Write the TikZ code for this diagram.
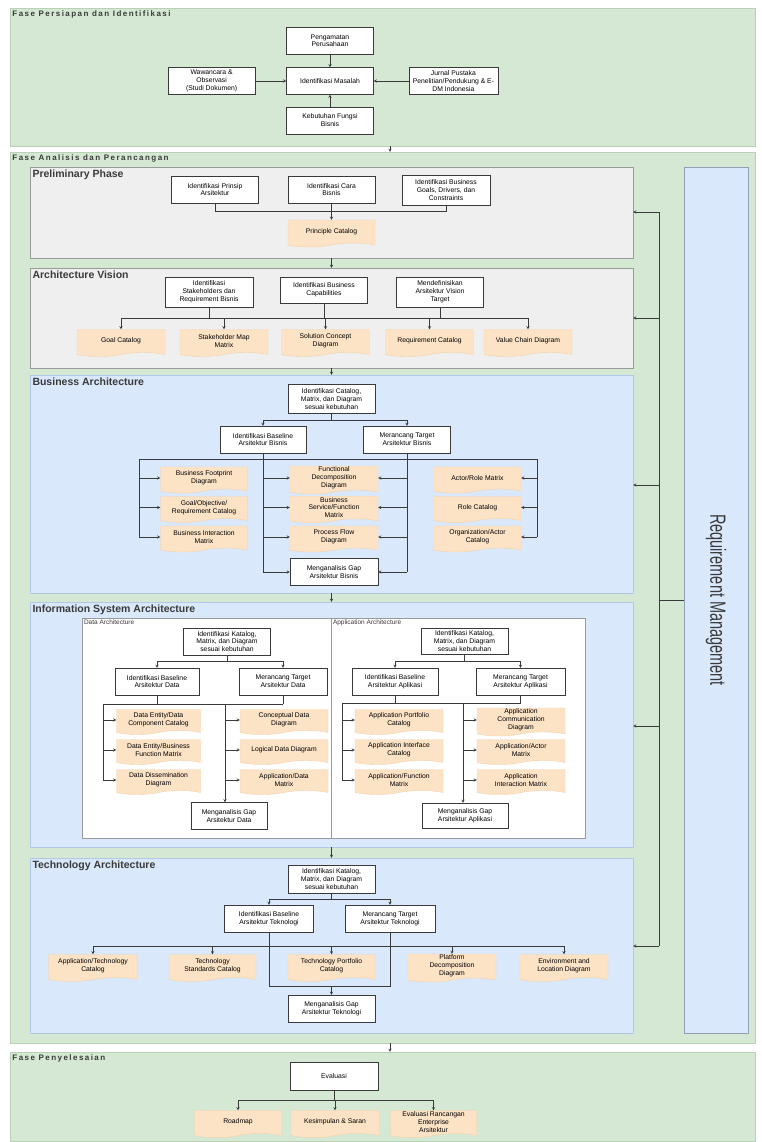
\documentclass[tikz,border=0pt]{standalone}
\usepackage{fontspec}
\setmainfont{Liberation Sans}
\usetikzlibrary{shapes.symbols, arrows, positioning, fit, backgrounds, calc}
\definecolor{fasegreen}{HTML}{D5E8D4}
\definecolor{faseline}{HTML}{B9D2B5}
\definecolor{phasegray}{HTML}{EFEFEF}
\definecolor{grayline}{HTML}{9A9A9A}
\definecolor{phaseblue}{HTML}{DAE8FC}
\definecolor{blueline}{HTML}{B3C8E6}
\definecolor{docorange}{HTML}{FDE3C6}
\definecolor{docline}{HTML}{F3D2AA}
\definecolor{linegray}{HTML}{3A3A3A}

\begin{document}
\begin{tikzpicture}[
    x=1pt, y=-1pt,
    box/.style={rectangle, draw=linegray, fill=white, minimum width=87pt, minimum height=27pt, inner sep=1pt, align=center, font=\fontsize{6.8}{7.8}\selectfont},
    doc/.style={tape, tape bend top=none, tape bend height=4pt, draw=docline, fill=docorange, minimum width=87pt, minimum height=27pt, inner sep=1pt, align=center, font=\fontsize{6.8}{7.8}\selectfont},
    fase/.style={rectangle, draw=faseline, fill=fasegreen, inner sep=0pt},
    graybox/.style={rectangle, draw=grayline, fill=phasegray, inner sep=0pt},
    bluebox/.style={rectangle, draw=blueline, fill=phaseblue, inner sep=0pt},
    subbox/.style={rectangle, draw=grayline, fill=white, inner sep=0pt},
    reqbox/.style={rectangle, draw=blueline!80!black, fill=phaseblue, inner sep=0pt},
    fasetitle/.style={anchor=north west, inner sep=2.5pt, text=linegray, font=\fontsize{8}{9}\selectfont\bfseries\addfontfeature{LetterSpace=18}},
    phasetitle/.style={anchor=north west, inner sep=2.5pt, text=linegray, font=\fontsize{10.5}{11}\selectfont\bfseries},
    subtitle/.style={anchor=north west, inner sep=2pt, text=linegray, font=\fontsize{6.5}{7}\selectfont},
    arrow/.style={draw=linegray, ->, >=stealth},
    conn/.style={draw=linegray}
]
\useasboundingbox (0,0) rectangle (761,1142);
\fill[white] (0,0) rectangle (761,1142);

% Fase Persiapan dan Identifikasi
\node[fase, fit={(10,8) (755,146)}] (persiapan) {};
\node[fasetitle] at (persiapan.north west) {Fase Persiapan dan Identifikasi};
\node[box] (masalah) at (330,81) {Identifikasi Masalah};
\node[box, above=13pt of masalah] (pengamatan) {Pengamatan\\Perusahaan};
\node[box, left=31pt of masalah] (wawancara) {Wawancara \&\\Observasi\\(Studi Dokumen)};
\node[box, right=35pt of masalah, minimum width=89pt] (jurnal) {Jurnal Pustaka\\Penelitian/Pendukung \& E-\\DM Indonesia};
\node[box, below=12pt of masalah] (kebutuhan) {Kebutuhan Fungsi\\Bisnis};
\draw[arrow] (pengamatan) -- (masalah);
\draw[arrow] (wawancara) -- (masalah);
\draw[arrow] (jurnal) -- (masalah);
\draw[arrow] (kebutuhan) -- (masalah);

% Fase Analisis dan Perancangan
\node[fase, fit={(10,152) (755,1043)}] (analisis) {};
\node[fasetitle] at (analisis.north west) {Fase Analisis dan Perancangan};
\draw[arrow] ([xshift=7.5pt]persiapan.south) -- ([xshift=7.5pt]analisis.north);

% Preliminary Phase
\node[graybox, fit={(30,167) (633,258)}] (prelim) {};
\node[phasetitle] at (prelim.north west) {Preliminary Phase};
\node[box] (prinsip) at (215,189.5) {Identifikasi Prinsip\\Arsitektur};
\node[box] (cara) at (331.5,189.5) {Identifikasi Cara\\Bisnis};
\node[box, minimum height=30pt, minimum width=88pt] (goals) at (446,190) {Identifikasi Business\\Goals, Drivers, dan\\Constraints};
\node[doc] (principle) at (331.5,231.5) {Principle Catalog};
\coordinate (prebus) at (0,211);
\draw[conn] (prinsip.south) -- (prinsip.south |- prebus) -- (goals.south |- prebus) -- (goals.south);
\draw[arrow] (cara.south) -- (principle.north);

% Architecture Vision
\node[graybox, fit={(30,268) (633,368)}] (vision) {};
\node[phasetitle] at (vision.north west) {Architecture Vision};
\draw[arrow] (prelim.south -| principle) -- (vision.north -| principle);
\node[box, minimum height=30pt, minimum width=88pt] (stakeholder) at (209,292) {Identifikasi\\Stakeholders dan\\Requirement Bisnis};
\node[box, minimum height=26pt] (capability) at (324,290) {Identifikasi Business\\Capabilities};
\node[box, minimum height=30pt] (visiontarget) at (440,292) {Mendefinisikan\\Arsitektur Vision\\Target};
\node[doc, minimum width=88pt] (goalcat) at (121,341) {Goal Catalog};
\node[doc, minimum width=88pt] (stakemap) at (224,341) {Stakeholder Map\\Matrix};
\node[doc, minimum width=88pt] (solution) at (325.5,341) {Solution Concept\\Diagram};
\node[doc, minimum width=88pt] (reqcat) at (429.5,341) {Requirement Catalog};
\node[doc, minimum width=88pt] (valuechain) at (528,341) {Value Chain Diagram};
\coordinate (visbus) at (0,318);
\draw[conn] (stakeholder.south) -- (stakeholder.south |- visbus);
\draw[conn] (capability.south) -- (capability.south |- visbus);
\draw[conn] (visiontarget.south) -- (visiontarget.south |- visbus);
\draw[conn] (goalcat.north |- visbus) -- (valuechain.north |- visbus);
\draw[arrow] (goalcat.north |- visbus) -- (goalcat.north);
\draw[arrow] (stakemap.north |- visbus) -- (stakemap.north);
\draw[arrow] (solution.north |- visbus) -- (solution.north);
\draw[arrow] (reqcat.north |- visbus) -- (reqcat.north);
\draw[arrow] (valuechain.north |- visbus) -- (valuechain.north);

% Business Architecture
\node[bluebox, fit={(30,375) (633,593)}] (business) {};
\node[phasetitle] at (business.north west) {Business Architecture};
\draw[arrow] (vision.south -| principle) -- (business.north -| principle);
\node[box, minimum height=29pt] (bizkatalog) at (331.5,399) {Identifikasi Catalog,\\Matrix, dan Diagram\\sesuai kebutuhan};
\node[box, minimum width=86pt] (bizbase) at (263,439.5) {Identifikasi Baseline\\Arsitektur Bisnis};
\node[box] (biztarget) at (407,439.5) {Merancang Target\\Arsitektur Bisnis};
\node[doc, minimum height=26pt] (footprint) at (204,478) {Business Footprint\\Diagram};
\node[doc, minimum height=26pt] (goalobj) at (204,507.5) {Goal/Objective/\\Requirement Catalog};
\node[doc, minimum height=26pt] (interaction) at (204,537) {Business Interaction\\Matrix};
\node[doc, minimum width=88pt, minimum height=26pt] (functional) at (334,478) {Functional\\Decomposition\\Diagram};
\node[doc, minimum width=88pt, minimum height=26pt] (service) at (334,507.5) {Business\\Service/Function\\Matrix};
\node[doc, minimum width=88pt, minimum height=26pt] (processflow) at (334,537) {Process Flow\\Diagram};
\node[doc, minimum height=26pt] (actorrole) at (477.5,478) {Actor/Role Matrix};
\node[doc, minimum height=26pt] (rolecat) at (477.5,507.5) {Role Catalog};
\node[doc, minimum height=26pt] (orgactor) at (477.5,537) {Organization/Actor\\Catalog};
\node[box, minimum width=88pt] (bizgap) at (334,572) {Menganalisis Gap\\Arsitektur Bisnis};
\coordinate (bizbus) at (0,420);
\coordinate (bizleft) at (139,459);
\coordinate (bizright) at (537,459);
\draw[conn] (bizkatalog.south) -- (bizkatalog.south |- bizbus);
\draw[conn] (bizbase.north |- bizbus) -- (biztarget.north |- bizbus);
\draw[arrow] (bizbase.north |- bizbus) -- (bizbase.north);
\draw[arrow] (biztarget.north |- bizbus) -- (biztarget.north);
\draw[conn] (bizleft) -- (bizright);
\draw[conn] (bizbase.south) -- (bizbase.south |- bizgap);
\draw[conn] (biztarget.south) -- (biztarget.south |- bizgap);
\draw[conn] (bizleft) -- (bizleft |- interaction);
\draw[conn] (bizright) -- (bizright |- orgactor);
\draw[arrow] (bizleft |- footprint) -- (footprint.west);
\draw[arrow] (bizleft |- goalobj) -- (goalobj.west);
\draw[arrow] (bizleft |- interaction) -- (interaction.west);
\draw[arrow] (bizright |- actorrole) -- (actorrole.east);
\draw[arrow] (bizright |- rolecat) -- (rolecat.east);
\draw[arrow] (bizright |- orgactor) -- (orgactor.east);
\draw[arrow] (bizbase.south |- functional) -- (functional.west);
\draw[arrow] (bizbase.south |- service) -- (service.west);
\draw[arrow] (bizbase.south |- processflow) -- (processflow.west);
\draw[arrow] (bizbase.south |- bizgap) -- (bizgap.west);
\draw[arrow] (biztarget.south |- functional) -- (functional.east);
\draw[arrow] (biztarget.south |- service) -- (service.east);
\draw[arrow] (biztarget.south |- processflow) -- (processflow.east);
\draw[arrow] (biztarget.south |- bizgap) -- (bizgap.east);

% Information System Architecture
\node[bluebox, fit={(30,602) (633,847)}] (infosys) {};
\node[phasetitle] at (infosys.north west) {Information System Architecture};
\draw[arrow] (business.south -| principle) -- (infosys.north -| principle);
\node[subbox, fit={(82,618) (331,838)}] (dataarch) {};
\node[subtitle] at (dataarch.north west) {Data Architecture};
\node[subbox, fit={(331,618) (585,838)}] (apparch) {};
\node[subtitle] at (apparch.north west) {Application Architecture};

% Data Architecture
\node[box] (datakatalog) at (227,641.5) {Identifikasi Katalog,\\Matrix, dan Diagram\\sesuai kebutuhan};
\node[box, minimum width=84pt] (database) at (157,681.5) {Identifikasi Baseline\\Arsitektur Data};
\node[box, minimum width=88pt] (datatarget) at (283,681.5) {Merancang Target\\Arsitektur Data};
\node[doc, minimum width=84pt, minimum height=25pt] (dataentity) at (158.5,720) {Data Entity/Data\\Component Catalog};
\node[doc, minimum width=84pt, minimum height=25pt] (databizfn) at (158.5,750) {Data Entity/Business\\Function Matrix};
\node[doc, minimum width=84pt, minimum height=25pt] (dissemination) at (158.5,780) {Data Dissemination\\Diagram};
\node[doc, minimum width=88pt, minimum height=25pt] (conceptual) at (284,720) {Conceptual Data\\Diagram};
\node[doc, minimum width=88pt, minimum height=25pt] (logical) at (284,750) {Logical Data Diagram};
\node[doc, minimum width=88pt, minimum height=25pt] (appdata) at (284,780) {Application/Data\\Matrix};
\node[box, minimum width=76pt] (datagap) at (229,816) {Menganalisis Gap\\Arsitektur Data};
\coordinate (databus) at (0,661);
\coordinate (dataleft) at (103,704);
\coordinate (datamid) at (225,704);
\draw[conn] (datakatalog.south) -- (datakatalog.south |- databus);
\draw[conn] (database.north |- databus) -- (datatarget.north |- databus);
\draw[arrow] (database.north |- databus) -- (database.north);
\draw[arrow] (datatarget.north |- databus) -- (datatarget.north);
\draw[conn] (database.south) -- (database.south |- dataleft);
\draw[conn] (datatarget.south) -- (datatarget.south |- dataleft);
\draw[conn] (dataleft) -- (datatarget.south |- dataleft);
\draw[conn] (dataleft) -- (dataleft |- dissemination);
\draw[arrow] (dataleft |- dataentity) -- (dataentity.west);
\draw[arrow] (dataleft |- databizfn) -- (databizfn.west);
\draw[arrow] (dataleft |- dissemination) -- (dissemination.west);
\draw[arrow] (datamid) -- (datamid |- datagap.north);
\draw[arrow] (datamid |- conceptual) -- (conceptual.west);
\draw[arrow] (datamid |- logical) -- (logical.west);
\draw[arrow] (datamid |- appdata) -- (appdata.west);

% Application Architecture
\node[box, minimum height=26pt] (appkatalog) at (464.5,641) {Identifikasi Katalog,\\Matrix, dan Diagram\\sesuai kebutuhan};
\node[box, minimum width=86pt] (appbase) at (395,681.5) {Identifikasi Baseline\\Arsitektur Aplikasi};
\node[box, minimum width=89pt] (apptarget) at (520.5,681.5) {Merancang Target\\Arsitektur Aplikasi};
\node[doc, minimum width=88pt, minimum height=25pt] (portfolio) at (399,720) {Application Portfolio\\Catalog};
\node[doc, minimum width=88pt, minimum height=25pt] (interface) at (399,750) {Application Interface\\Catalog};
\node[doc, minimum width=88pt, minimum height=25pt] (appfunction) at (399,780) {Application/Function\\Matrix};
\node[doc, minimum width=88pt, minimum height=25pt] (communication) at (521,720) {Application\\Communication\\Diagram};
\node[doc, minimum width=88pt, minimum height=25pt] (appactor) at (521,750) {Application/Actor\\Matrix};
\node[doc, minimum width=88pt, minimum height=25pt] (appinteraction) at (521,780) {Application\\Interaction Matrix};
\node[box, minimum width=86pt, minimum height=25pt] (appgap) at (465,815.5) {Menganalisis Gap\\Arsitektur Aplikasi};
\coordinate (appbus) at (0,661);
\coordinate (appleft) at (342,703);
\coordinate (appmid) at (463,703);
\draw[conn] (appkatalog.south) -- (appkatalog.south |- appbus);
\draw[conn] (appbase.north |- appbus) -- (apptarget.north |- appbus);
\draw[arrow] (appbase.north |- appbus) -- (appbase.north);
\draw[arrow] (apptarget.north |- appbus) -- (apptarget.north);
\draw[conn] (appbase.south) -- (appbase.south |- appleft);
\draw[conn] (apptarget.south) -- (apptarget.south |- appleft);
\draw[conn] (appleft) -- (apptarget.south |- appleft);
\draw[conn] (appleft) -- (appleft |- appfunction);
\draw[arrow] (appleft |- portfolio) -- (portfolio.west);
\draw[arrow] (appleft |- interface) -- (interface.west);
\draw[arrow] (appleft |- appfunction) -- (appfunction.west);
\draw[arrow] (appmid) -- (appmid |- appgap.north);
\draw[arrow] (appmid |- communication) -- (communication.west);
\draw[arrow] (appmid |- appactor) -- (appactor.west);
\draw[arrow] (appmid |- appinteraction) -- (appinteraction.west);

% Technology Architecture
\node[bluebox, fit={(30,858) (633,1033)}] (technology) {};
\node[phasetitle] at (technology.north west) {Technology Architecture};
\draw[arrow] (infosys.south -| principle) -- (technology.north -| principle);
\node[box, minimum height=28pt] (techkatalog) at (331.5,879) {Identifikasi Katalog,\\Matrix, dan Diagram\\sesuai kebutuhan};
\node[box, minimum width=89pt] (techbase) at (269,918.5) {Identifikasi Baseline\\Arsitektur Teknologi};
\node[box, minimum width=90pt] (techtarget) at (390,918.5) {Merancang Target\\Arsitektur Teknologi};
\node[doc, minimum width=89pt] (apptech) at (93,966) {Application/Technology\\Catalog};
\node[doc] (techstd) at (212.5,966) {Technology\\Standards Catalog};
\node[doc] (techport) at (331.5,966) {Technology Portfolio\\Catalog};
\node[doc, minimum width=88pt] (platform) at (452,966) {Platform\\Decomposition\\Diagram};
\node[doc, minimum width=88pt] (envloc) at (564,966) {Environment and\\Location Diagram};
\node[box] (techgap) at (331.5,1008.5) {Menganalisis Gap\\Arsitektur Teknologi};
\coordinate (techbus) at (0,899);
\coordinate (techrow) at (0,946);
\coordinate (techjoin) at (0,986);
\draw[conn] (techkatalog.south) -- (techkatalog.south |- techbus);
\draw[conn] (techbase.north |- techbus) -- (techtarget.north |- techbus);
\draw[arrow] (techbase.north |- techbus) -- (techbase.north);
\draw[arrow] (techtarget.north |- techbus) -- (techtarget.north);
\draw[conn] (apptech.north |- techrow) -- (envloc.north |- techrow);
\draw[arrow] (apptech.north |- techrow) -- (apptech.north);
\draw[arrow] (techstd.north |- techrow) -- (techstd.north);
\draw[arrow] (techport.north |- techrow) -- (techport.north);
\draw[arrow] (platform.north |- techrow) -- (platform.north);
\draw[arrow] (envloc.north |- techrow) -- (envloc.north);
\draw[conn] (techbase.south) -- (techbase.south |- techjoin) -- (techtarget.south |- techjoin) -- (techtarget.south);
\draw[arrow] (techgap.north |- techjoin) -- (techgap.north);

% Requirement Management
\node[reqbox, fit={(684,167) (748,1033)}] (reqmgmt) {};
\node[rotate=-90, text=linegray, font=\fontsize{22}{22}\selectfont] at (reqmgmt.center) {\scalebox{0.66}[1]{Requirement Management}};
\coordinate (reqtop) at (659,212);
\coordinate (reqbot) at (659,946);
\draw[conn] (reqtop) -- (reqbot);
\draw[conn] (reqmgmt.west) -- (reqtop |- reqmgmt.west);
\draw[arrow] (reqtop) -- (prelim.east |- reqtop);
\draw[arrow] (reqtop |- 0,318) -- (vision.east |- 0,318);
\draw[arrow] (reqtop |- 0,485) -- (business.east |- 0,485);
\draw[arrow] (reqtop |- 0,726) -- (infosys.east |- 0,726);
\draw[arrow] (reqbot) -- (technology.east |- reqbot);

% Fase Penyelesaian
\node[fase, fit={(10,1052) (755,1141)}] (penyelesaian) {};
\node[fasetitle] at (penyelesaian.north west) {Fase Penyelesaian};
\draw[arrow] ([xshift=7.5pt]analisis.south) -- ([xshift=7.5pt]penyelesaian.north);
\node[box, minimum width=88pt, minimum height=28pt] (evaluasi) at (334,1076) {Evaluasi};
\node[doc] (roadmap) at (238,1122) {Roadmap};
\node[doc, minimum width=88pt] (kesimpulan) at (335,1122) {Kesimpulan \& Saran};
\node[doc, minimum width=86pt] (evalrancang) at (433.5,1122) {Evaluasi Rancangan\\Enterprise\\Arsitektur};
\coordinate (evalbus) at (0,1100);
\draw[conn] (evaluasi.south) -- (evaluasi.south |- evalbus);
\draw[conn] (roadmap.north |- evalbus) -- (evalrancang.north |- evalbus);
\draw[arrow] (roadmap.north |- evalbus) -- (roadmap.north);
\draw[arrow] (kesimpulan.north |- evalbus) -- (kesimpulan.north);
\draw[arrow] (evalrancang.north |- evalbus) -- (evalrancang.north);

\end{tikzpicture}
\end{document}
